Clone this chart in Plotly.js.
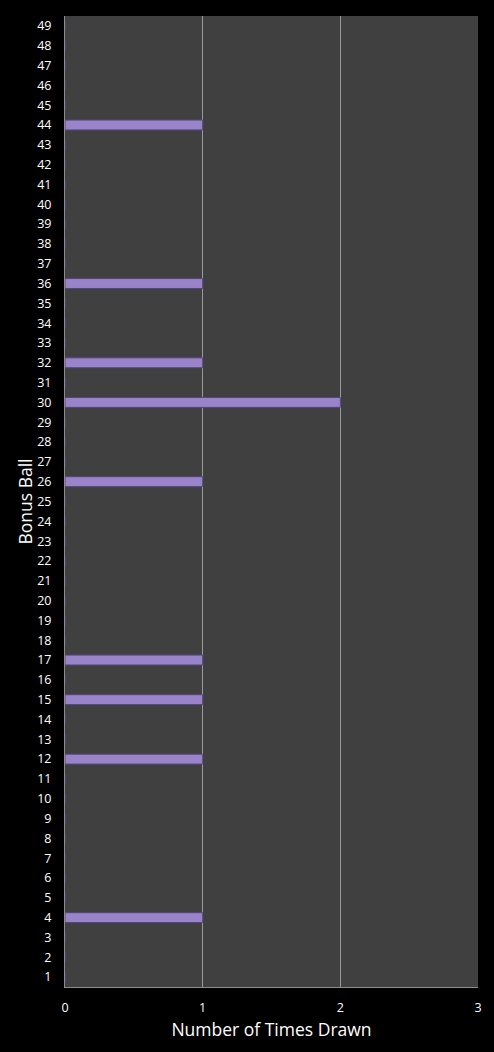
<!DOCTYPE html>
<html>
<head>
<meta charset="utf-8">
<script src="https://cdn.plot.ly/plotly-3.0.1.min.js"></script>
<style>
  html, body { margin: 0; padding: 0; background: #000; }
  #plot { width: 494px; height: 1052px; }
</style>
</head>
<body>
<div id="plot"></div>
<script>
// bonus ball numbers 1..49 and how often each was drawn
var balls = [];
for (var i = 1; i <= 49; i++) balls.push(String(i));

var drawnBalls = ["4", "12", "15", "17", "26", "30", "32", "36", "44"];
var drawnCounts = [1, 1, 1, 1, 1, 2, 1, 1, 1];

var counts = balls.map(function (b) {
  var k = drawnBalls.indexOf(b);
  return k >= 0 ? drawnCounts[k] : 0;
});

var bars = {
  x: counts,
  y: balls,
  type: "bar",
  orientation: "h",
  marker: { color: "#9a84c9",
            line: { width: 1,
                    color: "#54467a" } },
  hoverinfo: "x+y"
};

var layout = {
  width: 494,
  height: 1052,
  paper_bgcolor: "#000000",
  plot_bgcolor: "#404040",
  margin: { l: 65, r: 16, t: 16, b: 65 },
  bargap: 0.5,
  showlegend: false,
  font: { family: "Open Sans, DejaVu Sans, sans-serif", color: "#ffffff", size: 12 },
  xaxis: {
    range: [0, 3],
    dtick: 1,
    showgrid: true,
    gridcolor: "#9a9a9a",
    gridwidth: 1,
    zeroline: false,
    showline: true,
    linecolor: "#8c8c8c",
    ticks: "",
    ticklabelstandoff: 9,
    tickfont: { size: 12.5, color: "#ffffff" },
    title: { text: "Number of Times Drawn", font: { size: 17.5, color: "#ffffff" }, standoff: 8 },
    fixedrange: true
  },
  yaxis: {
    type: "category",
    categoryorder: "array",
    categoryarray: balls,
    showgrid: false,
    zeroline: false,
    showline: true,
    linecolor: "#8c8c8c",
    ticks: "",
    ticklabelstandoff: 10,
    tickfont: { size: 12.5, color: "#ffffff" },
    title: { text: "Bonus Ball", font: { size: 17.5, color: "#ffffff" }, standoff: 0 },
    fixedrange: true
  }
};

Plotly.newPlot("plot", [bars], layout, { displayModeBar: false, staticPlot: true });
</script>
</body>
</html>
